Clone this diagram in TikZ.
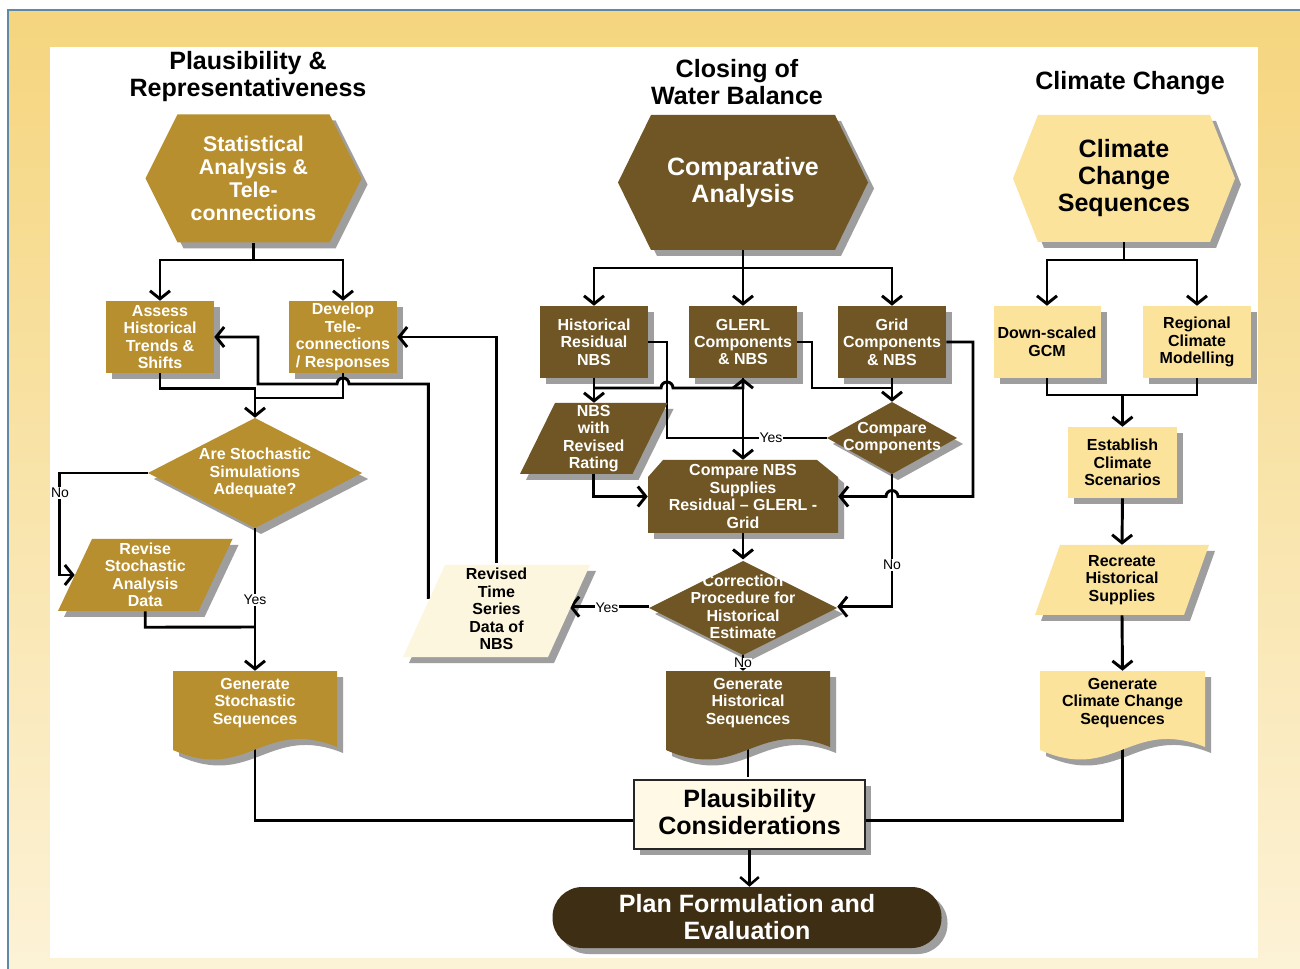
\documentclass[tikz,border=0pt]{standalone}
\usepackage{fontspec}
\setmainfont{Liberation Sans}
\usetikzlibrary{arrows.meta,calc}
\definecolor{gold}{RGB}{184,143,46}
\definecolor{brn}{RGB}{111,86,36}
\definecolor{lyel}{RGB}{251,227,156}
\definecolor{cream}{RGB}{253,246,222}
\definecolor{pcream}{RGB}{255,249,230}
\definecolor{dbrn}{RGB}{62,46,20}
\definecolor{shadowc}{RGB}{158,158,158}
\definecolor{frameY}{RGB}{245,213,126}
\definecolor{frameY2}{RGB}{252,242,214}
\definecolor{frameB}{RGB}{96,137,168}
\pgfdeclarelayer{back}
\pgfdeclarelayer{shadowl}
\pgfdeclarelayer{lines}
\pgfdeclarelayer{shapes}
\pgfsetlayers{back,shadowl,lines,shapes,main}
\tikzset{
  conn/.style={line width=2.2pt,black},
  conn2/.style={line width=1.9pt,black},
  arr/.style={conn,-{Straight Barb[length=6pt,width=15pt]}},
  arr2/.style={conn2,-{Straight Barb[length=6pt,width=14pt]}},
  arrsmall/.style={line width=1.2pt,-{Straight Barb[length=2pt,width=5pt]}},
  wt/.style={text=white,font=\bfseries\fontsize{12}{13.1}\selectfont,align=center,inner sep=0pt},
  bt/.style={text=black,font=\bfseries\fontsize{12}{13.1}\selectfont,align=center,inner sep=0pt},
  wmid/.style={text=white,font=\bfseries\fontsize{16}{17.25}\selectfont,align=center,inner sep=0pt},
  wbig/.style={text=white,font=\bfseries\fontsize{18.8}{20.25}\selectfont,align=center,inner sep=0pt},
  bbig/.style={text=black,font=\bfseries\fontsize{18.8}{20.25}\selectfont,align=center,inner sep=0pt},
  head/.style={text=black,font=\bfseries\fontsize{18.8}{20.25}\selectfont,align=center,inner sep=0pt},
  lbl/.style={fill=white,inner sep=0.6pt,font=\fontsize{10.5}{12}\selectfont},
}
% name cx cy hw ihw hh fill style text
\newcommand{\HexN}[9]{%
  \begin{pgfonlayer}{shadowl}
  \fill[shadowc,shift={(6,6)}] ({#2-#4},#3) -- ({#2-#5},{#3-#6}) -- ({#2+#5},{#3-#6}) -- ({#2+#4},#3) -- ({#2+#5},{#3+#6}) -- ({#2-#5},{#3+#6}) -- cycle;
  \end{pgfonlayer}
  \begin{pgfonlayer}{shapes}
  \fill[#7] ({#2-#4},#3) -- ({#2-#5},{#3-#6}) -- ({#2+#5},{#3-#6}) -- ({#2+#4},#3) -- ({#2+#5},{#3+#6}) -- ({#2-#5},{#3+#6}) -- cycle;
  \end{pgfonlayer}
  \node[#8,minimum width={2*#4*0.75pt},minimum height={2*#6*0.75pt}] (#1) at (#2,#3) {#9};}
% name cx cy w h pathopts style text
\newcommand{\RectN}[8]{%
  \begin{pgfonlayer}{shadowl}
  \fill[shadowc,shift={(6,6)}] ({#2-#4/2},{#3-#5/2}) rectangle ({#2+#4/2},{#3+#5/2});
  \end{pgfonlayer}
  \begin{pgfonlayer}{shapes}
  \path[#6] ({#2-#4/2},{#3-#5/2}) rectangle ({#2+#4/2},{#3+#5/2});
  \end{pgfonlayer}
  \node[#7,minimum width={#4*0.75pt},minimum height={#5*0.75pt}] (#1) at (#2,#3) {#8};}
% name cx cy hw hh fill style text
\newcommand{\DiaN}[8]{%
  \begin{pgfonlayer}{shadowl}
  \fill[shadowc,shift={(6,6)}] ({#2-#4},#3) -- (#2,{#3-#5}) -- ({#2+#4},#3) -- (#2,{#3+#5}) -- cycle;
  \end{pgfonlayer}
  \begin{pgfonlayer}{shapes}
  \fill[#6] ({#2-#4},#3) -- (#2,{#3-#5}) -- ({#2+#4},#3) -- (#2,{#3+#5}) -- cycle;
  \end{pgfonlayer}
  \node[#7,minimum width={2*#4*0.75pt},minimum height={2*#5*0.75pt}] (#1) at (#2,#3) {#8};}
% name cx cy w h skew fill style text
\newcommand{\ParaN}[9]{%
  \begin{pgfonlayer}{shadowl}
  \fill[shadowc,shift={(6,6)}] ({#2-#4/2+#6/2},{#3-#5/2}) -- ({#2+#4/2+#6/2},{#3-#5/2}) -- ({#2+#4/2-#6/2},{#3+#5/2}) -- ({#2-#4/2-#6/2},{#3+#5/2}) -- cycle;
  \end{pgfonlayer}
  \begin{pgfonlayer}{shapes}
  \fill[#7] ({#2-#4/2+#6/2},{#3-#5/2}) -- ({#2+#4/2+#6/2},{#3-#5/2}) -- ({#2+#4/2-#6/2},{#3+#5/2}) -- ({#2-#4/2-#6/2},{#3+#5/2}) -- cycle;
  \end{pgfonlayer}
  \node[#8,minimum width={#4*0.75pt},minimum height={#5*0.75pt}] (#1) at (#2,#3) {#9};}
% name cx top w fill style text
\newcommand{\DocN}[7]{%
  \begin{pgfonlayer}{shadowl}
  \fill[shadowc,shift={(6,6)}] ({#2-#4/2},#3) -- ({#2+#4/2},#3) -- ({#2+#4/2},{#3+76}) .. controls ({#2+#4*0.05},{#3+46}) and ({#2-#4*0.05},{#3+112}) .. ({#2-#4/2},{#3+79}) -- cycle;
  \end{pgfonlayer}
  \begin{pgfonlayer}{shapes}
  \fill[#5] ({#2-#4/2},#3) -- ({#2+#4/2},#3) -- ({#2+#4/2},{#3+76}) .. controls ({#2+#4*0.05},{#3+46}) and ({#2-#4*0.05},{#3+112}) .. ({#2-#4/2},{#3+79}) -- cycle;
  \end{pgfonlayer}
  \node[#6,minimum width={#4*0.75pt},minimum height={64*0.75pt}] (#1) at (#2,{#3+32}) {#7};}
\begin{document}
\begin{tikzpicture}[x=0.75pt,y=-0.75pt]
\useasboundingbox (0,0) rectangle (1300,969);
\begin{pgfonlayer}{back}
\fill[white] (0,0) rectangle (1300,969);
\shade[top color=frameY,bottom color=frameY2] (8,10) rectangle (1300,969);
\draw[frameB,line width=1.8pt] (1320,10) -- (8,10) -- (8,990);
\fill[white] (50,47) rectangle (1258,958);
\end{pgfonlayer}

% headings
\node[head] (h1) at (248,76.5) {Plausibility \&\\Representativeness};
\node[head] (h2) at (737,82.5) {Closing of\\Water Balance};
\node[head] (h3) at (1130,83) {Climate Change};

% hexagons
\HexN{stat}{253.5}{178.5}{108}{76}{64}{gold}{wmid}{Statistical\\Analysis \&\\Tele-\\connections}
\HexN{comp}{743}{182.5}{125}{92}{67.5}{brn}{wbig}{Comparative\\Analysis}
\HexN{cc}{1124}{178.5}{111}{86}{63.5}{lyel}{bbig}{Climate\\Change\\Sequences}

% left column
\RectN{assess}{160}{337}{108}{72}{fill=gold}{wt}{Assess\\Historical\\Trends \&\\Shifts}
\RectN{develop}{343}{337}{108}{72}{fill=gold}{wt}{Develop\\Tele-\\connections\\/ Responses}
\DiaN{adeq}{255}{473}{107}{55}{gold}{wt}{Are Stochastic\\Simulations\\Adequate?}
\ParaN{revise}{145.25}{575}{140.5}{72}{34}{gold}{wt}{Revise\\Stochastic\\Analysis\\Data}
\ParaN{revts}{496.5}{611}{145}{92}{42}{cream}{bt,yshift=1.5pt}{Revised\\Time\\Series\\Data of\\NBS}
\DocN{genS}{255}{671}{164}{gold}{wt}{Generate\\Stochastic\\Sequences}

% middle column
\RectN{hres}{594}{342}{108}{72}{fill=brn}{wt}{Historical\\Residual\\NBS}
\RectN{glerl}{743}{342}{108}{72}{fill=brn}{wt}{GLERL\\Components\\\& NBS}
\RectN{grid}{892}{342}{108}{72}{fill=brn}{wt}{Grid\\Components\\\& NBS}
\ParaN{nbsrev}{593.75}{438.5}{112.5}{71}{35}{brn}{wt}{NBS\\with\\Revised\\Rating}
\DiaN{cmpc}{892}{438}{65}{36}{brn}{wt}{Compare\\Components}
\begin{pgfonlayer}{shadowl}
\fill[shadowc,shift={(6,6)}] (648,477) -- (663,460) -- (817,460) -- (838,477) -- (838,533) -- (648,533) -- cycle;
\end{pgfonlayer}
\begin{pgfonlayer}{shapes}
\fill[brn] (648,477) -- (663,460) -- (817,460) -- (838,477) -- (838,533) -- (648,533) -- cycle;
\end{pgfonlayer}
\node[wt,minimum width=142.5pt,minimum height=54.75pt] (cmpnbs) at (743,496.5) {Compare NBS\\Supplies\\Residual – GLERL -\\Grid};
\DiaN{corr}{743}{608}{94}{47}{brn}{wt,yshift=1pt}{Correction\\Procedure for\\Historical\\Estimate}
\DocN{genH}{748}{671}{164}{brn}{wt}{Generate\\Historical\\Sequences}

% right column
\RectN{dsgcm}{1047}{342}{107}{72}{fill=lyel}{bt}{Down-scaled\\GCM}
\RectN{rcm}{1197}{342}{108}{72}{fill=lyel}{bt}{Regional\\Climate\\Modelling}
\RectN{est}{1122.5}{462.5}{109}{71}{fill=lyel}{bt}{Establish\\Climate\\Scenarios}
\ParaN{recr}{1122}{580}{149}{70}{25}{lyel}{bt}{Recreate\\Historical\\Supplies}
\DocN{genCC}{1122.5}{671}{165}{lyel}{bt}{Generate\\Climate Change\\Sequences}

% bottom
\RectN{plaus}{749.5}{814.5}{231}{69}{fill=pcream,draw=black!85,line width=1.2pt}{bbig,yshift=2pt}{Plausibility\\Considerations}
\begin{pgfonlayer}{shadowl}
\fill[shadowc,rounded corners=22.5pt,shift={(6,6)}] (552.5,887) rectangle (941.5,948);
\end{pgfonlayer}
\begin{pgfonlayer}{shapes}
\fill[dbrn,rounded corners=22.5pt] (552.5,887) rectangle (941.5,948);
\end{pgfonlayer}
\node[wbig,minimum width=291.75pt,minimum height=45.75pt] (plan) at (747,917.5) {Plan Formulation and\\Evaluation};

% connectors
\begin{pgfonlayer}{lines}
% left
\coordinate (jL) at (253.5,260);
\draw[conn] (stat.south) -- (jL);
\draw[arr] (jL) -| (assess.north);
\draw[arr] (jL) -| (develop.north);
\draw[arr] (assess.south) -- ++(0,15) -| (adeq.north);
\draw[conn] (develop.south) |- (255,398);
\draw[arr] (adeq.west) -| ($(revise.west)+(-15,0)$) -- (revise.west);
\draw[conn] (revise.south) -- ++(0,16) -- (255,627);
\draw[arr] (adeq.south) -- (genS.north);
\draw[conn2] (genS.south) |- ($(plaus.west)+(0,8.5)$);
\draw[arr] ($(revts.west)+(4.6,-10)$) |- (349,384) arc(0:-180:6) -- (258,384) |- (assess.east);
\draw[arr] (revts.north) |- (develop.east);
% middle
\coordinate (jM) at (743,268);
\draw[conn] (comp.south) -- (jM);
\draw[arr] (jM) -| (hres.north);
\draw[arr] (jM) -- (glerl.north);
\draw[arr] (jM) -| (grid.north);
\draw[arr] (hres.south) -- (hres.south |- nbsrev.north);
\draw[arr] (594,388) -- (661,388) arc(180:360:6) -- (743,388) -- (glerl.south);
\draw[arr] (glerl.south) -- (cmpnbs.north);
\draw[conn] (hres.east) -| (667,438) -- (cmpc.west);
\draw[conn] (glerl.east) -| (812,388) -- (892,388);
\draw[arr] (grid.south) -- (cmpc.north);
\draw[arr] (grid.east) -| (973,496.5) -- (898,496.5) arc(0:-180:6) -- (cmpnbs.east);
\draw[arr] (cmpc.south) |- (corr.east);
\draw[arr] (nbsrev.south) |- (cmpnbs.west);
\draw[arr] (cmpnbs.south) -- (corr.north);
\draw[arr] (corr.west) -- (corr.west -| revts.east);
\draw[arrsmall] (corr.south) -- (corr.south |- genH.north);
\draw[conn2] (genH.south) -- (genH.south |- plaus.north);
\draw[arr2] (plaus.south) -- (plaus.south |- plan.north);
\draw[conn2] (genCC.south) |- ($(plaus.east)+(0,8.5)$);
% right
\coordinate (jR) at (1124,260);
\draw[conn] (cc.south) -- (jR);
\draw[arr] (jR) -| (dsgcm.north);
\draw[arr] (jR) -| (rcm.north);
\coordinate (jR2) at (1122.5,395);
\draw[conn] (dsgcm.south) |- (jR2);
\draw[conn] (rcm.south) |- (jR2);
\draw[arr] (jR2) -- (est.north);
\draw[arr] (est.south) -- (recr.north);
\draw[arr] (recr.south) -- (genCC.north);
% labels
\node[lbl] (lno1) at (60,493) {No};
\node[lbl] (lyes1) at (255,600) {Yes};
\node[lbl] (lyes2) at (771,438) {Yes};
\node[lbl] (lno2) at (892,565) {No};
\node[lbl] (lyes3) at (607,608) {Yes};
\node[lbl,inner sep=0.3pt] (lno3) at (743,663) {No};
\end{pgfonlayer}
\end{tikzpicture}
\end{document}
